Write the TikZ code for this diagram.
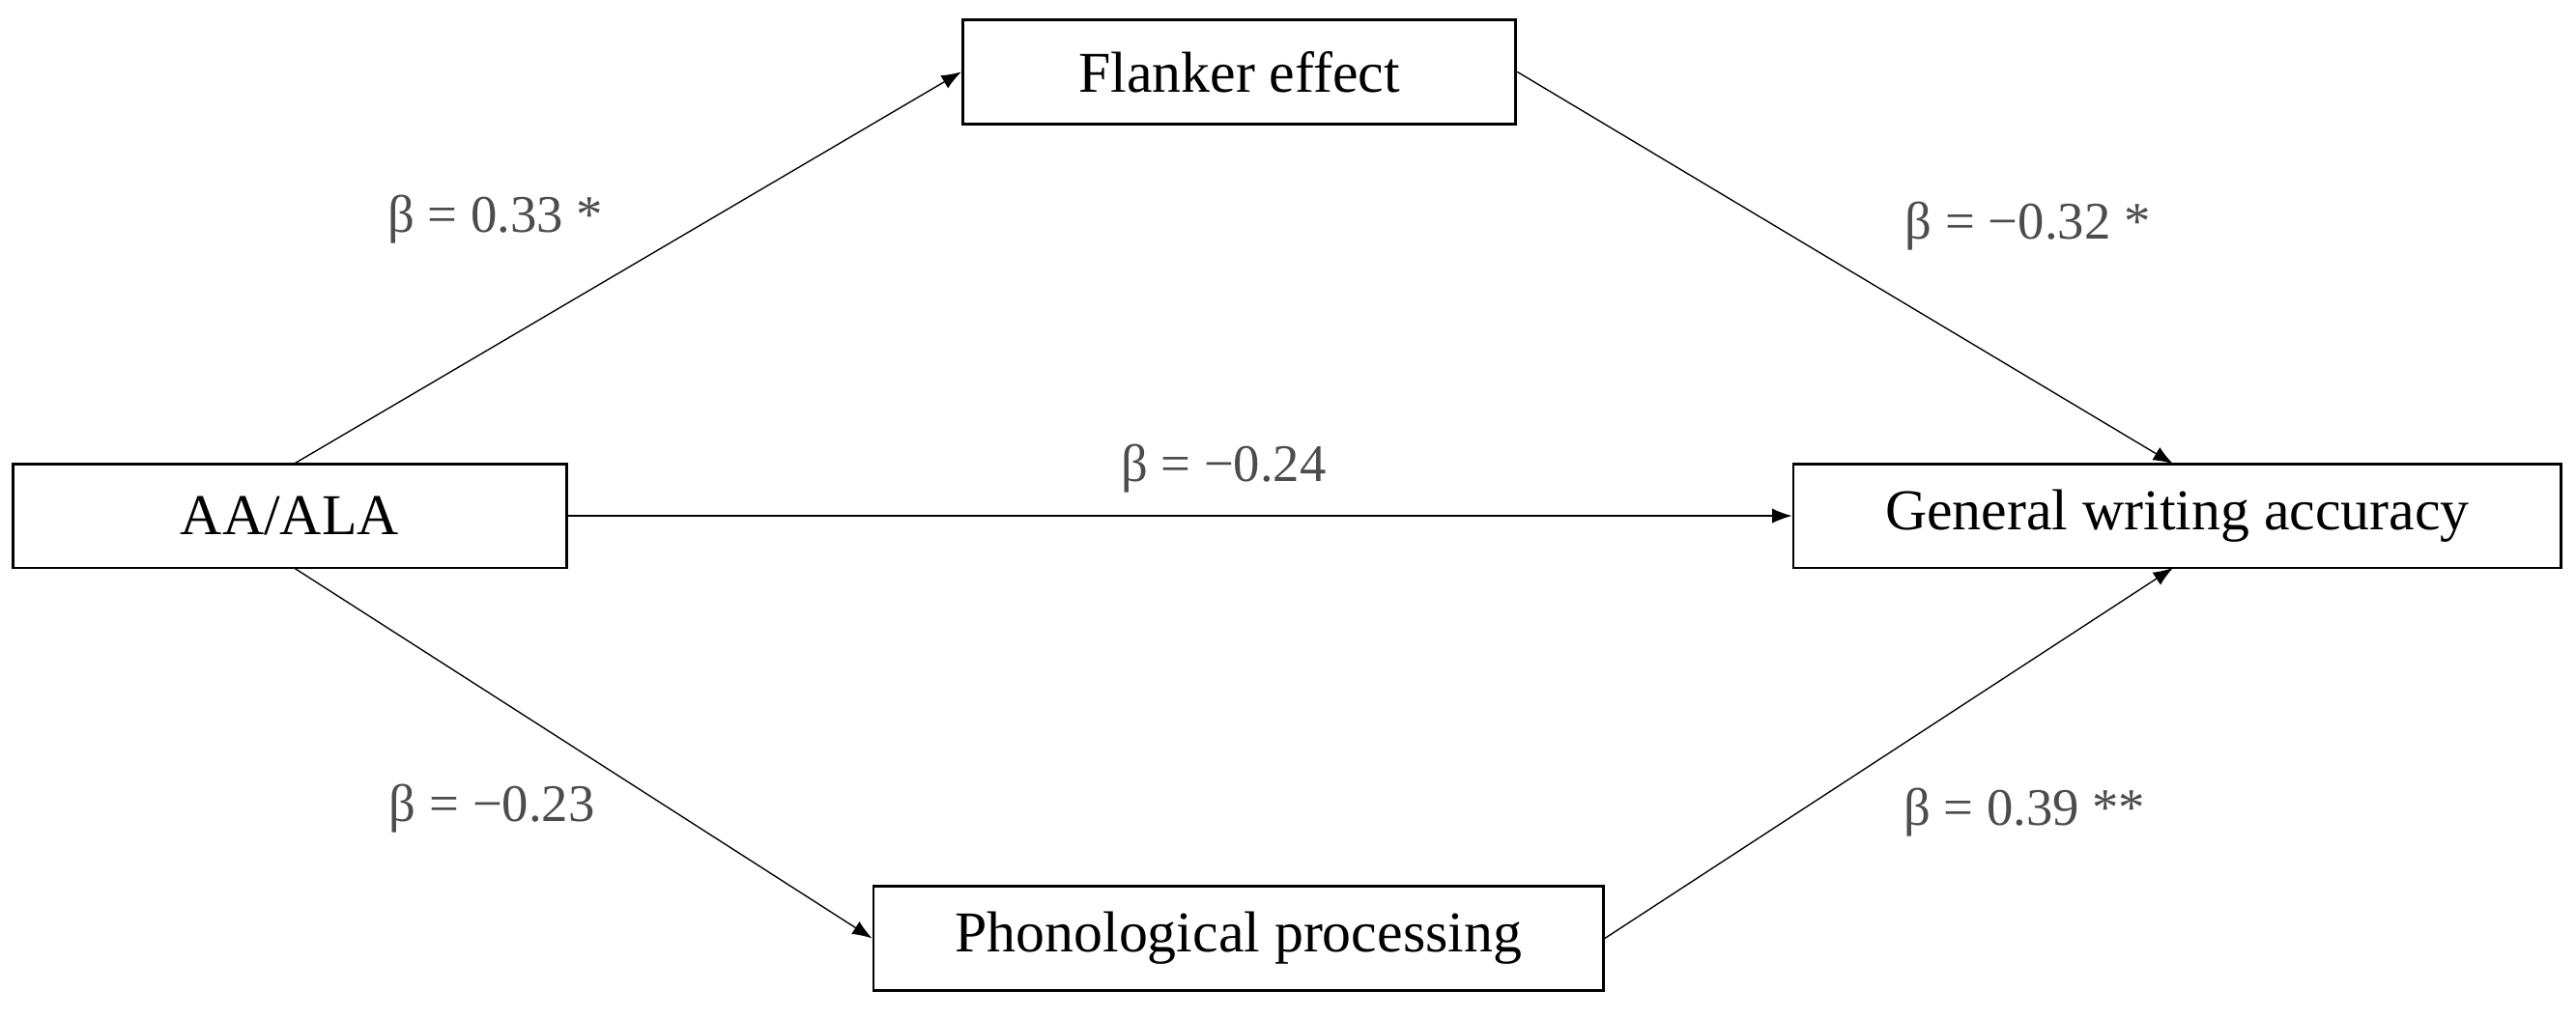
\documentclass[tikz,border=0pt]{standalone}
\usepackage{fontspec}
\setmainfont{Liberation Serif}
\usetikzlibrary{arrows.meta}
\begin{document}
\begin{tikzpicture}[x=0.5pt,y=-0.5pt,
 box/.style={draw,thick,minimum height=31.5pt,inner sep=0pt,font=\fontsize{17.5}{20}\selectfont},
 arr/.style={-{Latex[length=6pt,width=4.5pt]},line width=0.4pt},
 lab/.style={text=black!70,font=\fontsize{16}{19}\selectfont}]
\useasboundingbox (0,0) rectangle (1560,617);
\node[box,minimum width=167.5pt] (fl) at (750.5,43.5) {Flanker effect};
\node[box,minimum width=167.5pt] (aa) at (175.5,312.5) {AA/ALA};
\node[box,minimum width=232.5pt] (gw) at (1318.5,312.5) {General writing accuracy};
\node[box,minimum width=221pt] (ph) at (750,568.5) {Phonological processing};
\coordinate (aat) at (178,281);
\coordinate (aab) at (178,344);
\coordinate (gwt) at (1316,281);
\coordinate (gwb) at (1316,344);
\draw[arr] (aat) -- (fl.west);
\draw[arr] (fl.east) -- (gwt);
\draw[arr] (aa.east) -- (gw.west);
\draw[arr] (aab) -- (ph.west);
\draw[arr] (ph.east) -- (gwb);
\node[lab] (l1) at (300,133) {β = 0.33 *};
\node[lab] (l2) at (1228,137) {β = −0.32 *};
\node[lab] (l3) at (741,284) {β = −0.24};
\node[lab] (l4) at (298,490) {β = −0.23};
\node[lab] (l5) at (1226,492) {β = 0.39 **};
\end{tikzpicture}
\end{document}
